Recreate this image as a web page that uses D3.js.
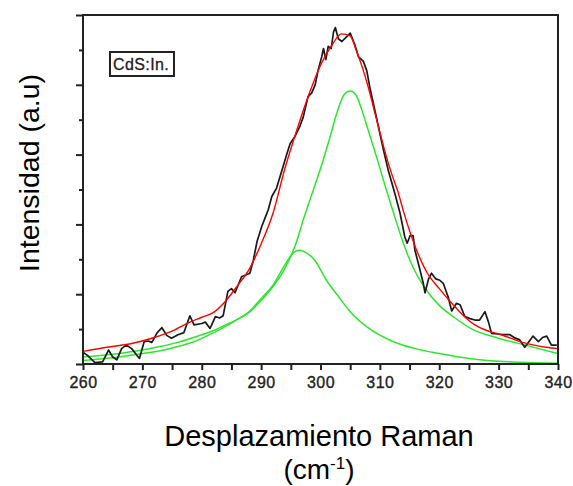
<!DOCTYPE html>
<html>
<head>
<meta charset="utf-8">
<script src="https://cdn.jsdelivr.net/npm/d3@7"></script>
<style>
  html, body { margin: 0; padding: 0; background: #fff; }
  svg { display: block; }
</style>
</head>
<body>
<svg id="chart" width="573" height="486"></svg>
<script>
// ---- data ----
const xTicks = [260, 270, 280, 290, 300, 310, 320, 330, 340];
const xMinorTicks = [265, 275, 285, 295, 305, 315, 325, 335];
const yTicks = [0, 1, 2, 3, 4, 5];
const yMinorTicks = [0.5, 1.5, 2.5, 3.5, 4.5];

// measured spectrum (black)
const dataX = [260.0,260.8,262.0,263.3,264.3,265.0,265.7,266.5,267.3,268.2,269.5,270.3,271.0,271.6,272.5,273.3,274.1,274.9,276.0,277.0,278.0,278.7,280.0,280.6,281.4,282.3,283.0,283.6,284.4,285.0,285.6,286.7,287.5,288.1,288.7,289.3,290.1,290.7,291.2,291.8,292.6,293.7,294.3,294.9,295.7,296.5,297.1,297.9,298.5,299.1,299.6,300.2,300.5,300.9,301.3,301.8,302.2,302.5,303.0,303.6,304.3,305.0,305.8,306.4,307.2,307.8,308.3,309.2,310.0,310.6,311.4,312.5,313.4,314.2,314.6,315.1,315.6,315.9,316.6,317.3,317.6,318.2,318.7,319.4,320.1,320.7,321.5,322.1,322.9,323.5,324.3,325.2,326.0,326.8,327.7,328.3,328.8,329.8,330.8,331.9,332.8,333.5,334.4,335.1,335.8,336.7,337.4,338.1,338.9,339.8];
const dataY = [0.17,0.12,0.02,0.03,0.20,0.10,0.06,0.22,0.27,0.22,0.08,0.32,0.33,0.31,0.45,0.52,0.41,0.37,0.42,0.45,0.69,0.56,0.58,0.60,0.51,0.68,0.66,0.69,1.04,1.08,1.02,1.25,1.28,1.30,1.49,1.75,1.97,2.10,2.21,2.40,2.52,2.83,3.00,3.16,3.26,3.40,3.54,3.83,3.88,4.00,4.21,4.40,4.52,4.36,4.55,4.52,4.76,4.82,4.66,4.62,4.68,4.74,4.57,4.40,4.34,4.20,3.97,3.62,3.30,3.07,2.78,2.45,2.16,1.82,1.73,1.84,1.84,1.63,1.40,1.16,1.02,1.22,1.30,1.22,1.20,1.15,0.96,0.76,0.87,0.85,0.68,0.65,0.63,0.63,0.75,0.60,0.44,0.43,0.42,0.42,0.37,0.35,0.24,0.32,0.40,0.32,0.38,0.40,0.27,0.27];

// fitted sum (red)
const fitX = [260,264,268,272,275,278,280,282,284,286,288,290,292,294,296,298,300,302,303.5,305,306,307,308,309,310,311,312,313,314,316,318,320,322,324,326,328,330,332,334,336,338,340];
const fitY = [0.18,0.24,0.29,0.38,0.47,0.60,0.67,0.74,0.90,1.12,1.36,1.72,2.16,2.80,3.35,3.85,4.28,4.58,4.73,4.70,4.50,4.26,3.98,3.65,3.32,3.00,2.72,2.48,2.18,1.67,1.30,1.08,0.88,0.70,0.56,0.48,0.43,0.37,0.31,0.27,0.24,0.22];

// component 1 (green, main peak ~305)
const comp1X = [260,265,270,273,276,279,282,284,286,288,290,292,294,296,297,298.5,300,301.5,303,304,305,306,307,308,309.5,311,312.5,314,315.5,317.5,320,322.5,325.5,330,335,340];
const comp1Y = [0.10,0.14,0.20,0.25,0.31,0.39,0.48,0.56,0.64,0.74,0.91,1.11,1.37,1.76,2.04,2.42,2.80,3.22,3.66,3.86,3.91,3.85,3.63,3.36,2.95,2.52,2.11,1.72,1.40,1.10,0.84,0.67,0.50,0.37,0.26,0.15];

// component 2 (green, shoulder ~296.5)
const comp2X = [260,265,270,273,276,279,282,284,286,288,290,292,294,295.5,296.5,297.5,299,301,303,305,308,312,316,320,325,330,335,340];
const comp2Y = [0.05,0.09,0.15,0.19,0.25,0.33,0.45,0.54,0.64,0.75,0.94,1.13,1.42,1.60,1.63,1.60,1.49,1.20,0.97,0.75,0.52,0.33,0.22,0.15,0.08,0.04,0.02,0.01];

const sampleLabel = "CdS:In.";
const xTitle = "Desplazamiento Raman";
const yTitle = "Intensidad (a.u)";

// ---- drawing ----
const svg = d3.select("#chart");
const L = 83, R = 558, T = 15, B = 364;

const x = d3.scaleLinear().domain([260, 340]).range([L, R]);
const y = d3.scaleLinear().domain([0, 5]).range([B, T]);

const g = svg.append("g");

svg.append("clipPath").attr("id", "clip")
  .append("rect").attr("x", L).attr("y", T).attr("width", R - L).attr("height", B - T);

const plot = g.append("g").attr("clip-path", "url(#clip)");

const zip = (xs, ys) => xs.map((v, i) => [v, ys[i]]);
const lineSmooth = d3.line().x(d => x(d[0])).y(d => y(d[1])).curve(d3.curveMonotoneX);
const lineRaw = d3.line().x(d => x(d[0])).y(d => y(d[1]));

const green = "#2ee62e";
plot.append("path").attr("d", lineSmooth(zip(comp2X, comp2Y)))
  .attr("fill", "none").attr("stroke", green).attr("stroke-width", 1.5);
plot.append("path").attr("d", lineSmooth(zip(comp1X, comp1Y)))
  .attr("fill", "none").attr("stroke", green).attr("stroke-width", 1.5);
plot.append("path").attr("d", lineRaw(zip(dataX, dataY)))
  .attr("fill", "none").attr("stroke", "#1a1a1a").attr("stroke-width", 1.7)
  .attr("stroke-linejoin", "round");
plot.append("path").attr("d", lineSmooth(zip(fitX, fitY)))
  .attr("fill", "none").attr("stroke", "#ff0000").attr("stroke-width", 1.4);

// frame
g.append("rect").attr("x", L).attr("y", T).attr("width", R - L).attr("height", B - T)
  .attr("fill", "none").attr("stroke", "#222").attr("stroke-width", 2);

const axisFont = "Arial, 'Liberation Sans', sans-serif";

// x axis ticks
const xAxis = d3.axisBottom(x).tickValues(xTicks).tickSize(6).tickPadding(7)
  .tickFormat(d3.format("d"));
const gx = g.append("g").attr("transform", `translate(0,${B})`).call(xAxis);
gx.select(".domain").remove();
gx.selectAll(".tick line").attr("stroke", "#222").attr("stroke-width", 2);
gx.selectAll(".tick text")
  .attr("fill", "#222")
  .attr("stroke", "#222").attr("stroke-width", 0.35)
  .style("font-family", axisFont)
  .style("font-size", "16px")
  .style("letter-spacing", "0.5px");

const xMinor = d3.axisBottom(x).tickValues(xMinorTicks).tickSize(6).tickFormat("");
const gxm = g.append("g").attr("transform", `translate(0,${B})`).call(xMinor);
gxm.select(".domain").remove();
gxm.selectAll(".tick line").attr("stroke", "#222").attr("stroke-width", 2);

// y axis ticks (no labels)
const yAxis = d3.axisLeft(y).tickValues(yTicks).tickSize(7).tickFormat("");
const gy = g.append("g").attr("transform", `translate(${L},0)`).call(yAxis);
gy.select(".domain").remove();
gy.selectAll(".tick line").attr("stroke", "#222").attr("stroke-width", 2);

const yMinor = d3.axisLeft(y).tickValues(yMinorTicks).tickSize(4).tickFormat("");
const gym = g.append("g").attr("transform", `translate(${L},0)`).call(yMinor);
gym.select(".domain").remove();
gym.selectAll(".tick line").attr("stroke", "#222").attr("stroke-width", 2);

// sample label box
g.append("rect").attr("x", 110).attr("y", 52).attr("width", 64).attr("height", 24)
  .attr("fill", "#fff").attr("stroke", "#222").attr("stroke-width", 2);
g.append("text").attr("x", 113).attr("y", 69.5)
  .text(sampleLabel)
  .attr("fill", "#222")
  .attr("stroke", "#222").attr("stroke-width", 0.3)
  .style("font-family", axisFont)
  .style("font-size", "16px")
  .style("letter-spacing", "0.4px");

// axis titles
const titleFont = "Arial, 'Liberation Sans', sans-serif";
g.append("text")
  .attr("transform", `translate(39,173) rotate(-90)`)
  .attr("text-anchor", "middle")
  .style("font-family", titleFont).style("font-size", "28.5px").attr("fill", "#000")
  .text(yTitle);

g.append("text")
  .attr("x", 319).attr("y", 446).attr("text-anchor", "middle")
  .style("font-family", titleFont).style("font-size", "29px").attr("fill", "#000")
  .text(xTitle);

const unit = g.append("text")
  .attr("x", 319).attr("y", 479).attr("text-anchor", "middle")
  .style("font-family", titleFont).style("font-size", "28px").attr("fill", "#000");
unit.append("tspan").text("(cm");
unit.append("tspan").attr("dy", -10).style("font-size", "17px").text("-1");
unit.append("tspan").attr("dy", 10).text(")");
</script>
</body>
</html>
